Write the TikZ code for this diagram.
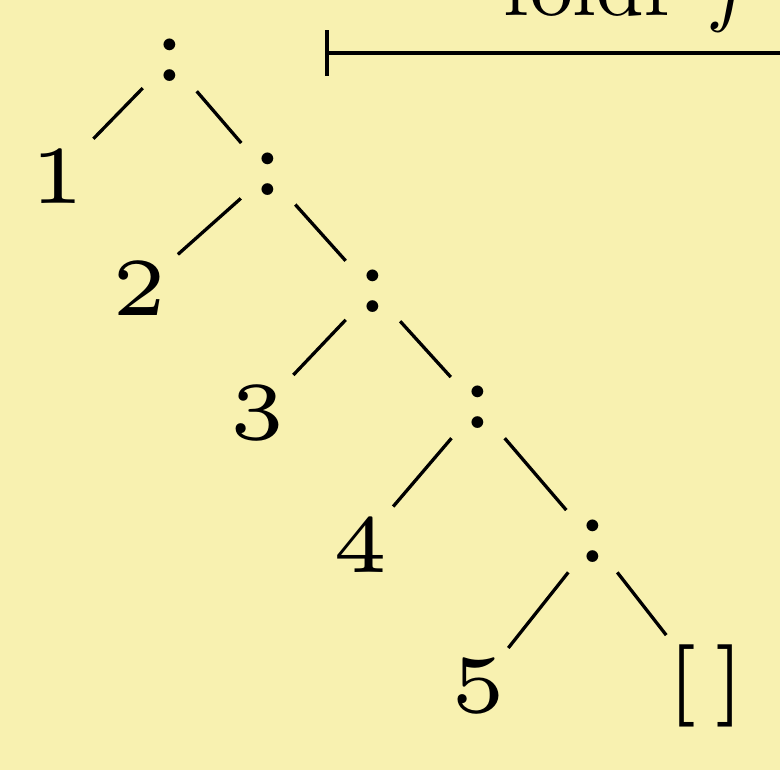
\documentclass[tikz,border=0pt]{standalone}
\usepackage{amsmath}
\usepackage{amssymb}
\definecolor{notebg}{RGB}{248,241,176}
\begin{document}
\begin{tikzpicture}[line width = 0.4pt,
                        cons/.style = {inner sep = 0.4pt, scale = 2, font = \fontsize{6}{7}\selectfont},
                        leaf/.style = {inner sep = 0.4pt, scale = 2, font = \fontsize{5}{6}\selectfont}]
      \useasboundingbox (0, 0) rectangle (3.332, 3.290);
      \clip (0, 0) rectangle (3.332, 3.290);
      \fill [notebg] (0, 0) rectangle (3.332, 3.290);

      \node [cons] (C1) at (0.726, 3.033){$:$};
      \node [cons] (C2) at (1.145, 2.546){$:$};
      \node [cons] (C3) at (1.593, 2.046){$:$};
      \node [cons] (C4) at (2.042, 1.551){$:$};
      \node [cons] (C5) at (2.533, 0.978){$:$};

      \node [leaf] (L1) at (0.244, 2.538){1};
      \node [leaf] (L2) at (0.598, 2.059){2};
      \node [leaf] (L3) at (1.098, 1.525){3};
      \node [leaf] (L4) at (1.542, 0.965){4};
      \node [leaf] (L5) at (2.042, 0.359){5};
      \node [leaf] (N) at (3.016, 0.359){[\kern0.9pt]};

      \draw (C1) -- (L1);
      \draw (C2) -- (L2);
      \draw (C3) -- (L3);
      \draw (C4) -- (L4);
      \draw (C5) -- (L5);
      \draw (C1) -- (C2) -- (C3) -- (C4) -- (C5) -- (N);

      \node [anchor = base west, inner sep = 0pt, scale = 1.04] (F) at (2.145, 3.225){foldr $f$ $z$};
      \coordinate (A) at (1.39, 3.063);
      \coordinate (B) at (3.80, 3.063);
      \draw [|->] (A) -- (B);
\end{tikzpicture}
\end{document}
